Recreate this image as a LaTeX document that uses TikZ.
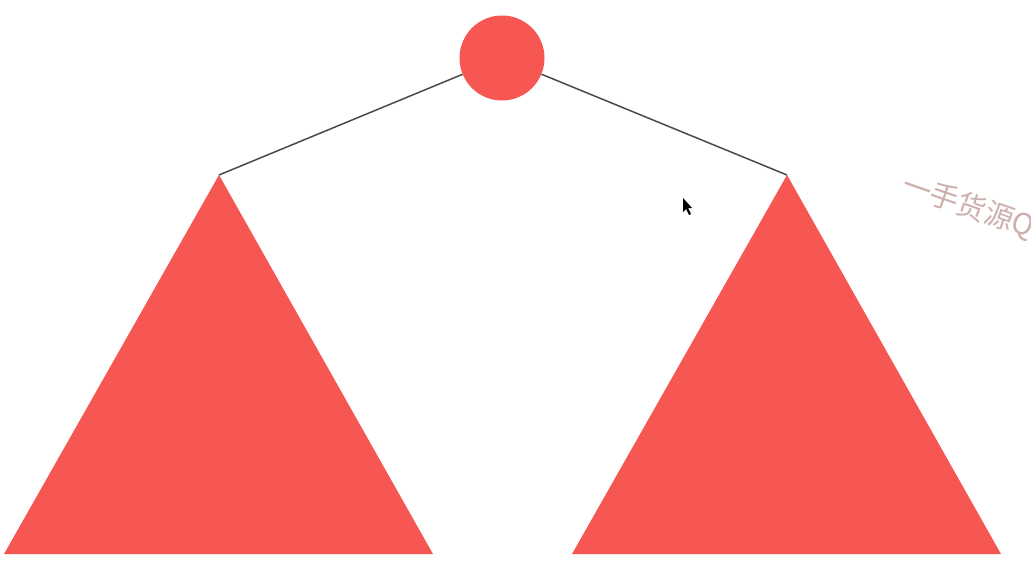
\documentclass[tikz,border=0pt]{standalone}
\usepackage{fontspec}
\newfontfamily\cjk{Noto Sans CJK SC}
\definecolor{treered}{HTML}{F65752}
\definecolor{edgegray}{HTML}{4A4A4A}
\definecolor{wmark}{HTML}{CDB0AD}
\tikzset{
  rootnode/.style={circle, fill=treered, minimum size=85pt, inner sep=0pt},
  subtree/.style={fill=treered},
  edge/.style={draw=edgegray, line width=1.5pt},
  watermark/.style={text=wmark, font=\cjk\fontsize{29pt}{29pt}\selectfont, anchor=west, inner sep=0pt}
}
\begin{document}
\begin{tikzpicture}[x=1pt,y=-1pt]
\useasboundingbox (0,0) rectangle (1031,566);
\fill[white] (0,0) rectangle (1031,566);
% subtree apexes and base corners
\coordinate (la) at (219,175);
\coordinate (lb1) at (4,554);
\coordinate (lb2) at (433,554);
\coordinate (ra) at (787,175);
\coordinate (rb1) at (572,554);
\coordinate (rb2) at (1001,554);
\fill[subtree] (la) -- (lb2) -- (lb1) -- cycle;
\fill[subtree] (ra) -- (rb2) -- (rb1) -- cycle;
\node[rootnode] (root) at (502,58) {};
\draw[edge] (root) -- (la);
\draw[edge] (root) -- (ra);
% cursor
\fill[black] (683,198) -- (683,212) -- (686,209) -- (689,215) -- (691,214) -- (688,208) -- (692,208) -- cycle;
% watermark
\begin{scope}
\clip (0,0) rectangle (1031,566);
\node[watermark, rotate=-19] (wm) at (903,184) {一手货源Q};
\end{scope}
\end{tikzpicture}
\end{document}
